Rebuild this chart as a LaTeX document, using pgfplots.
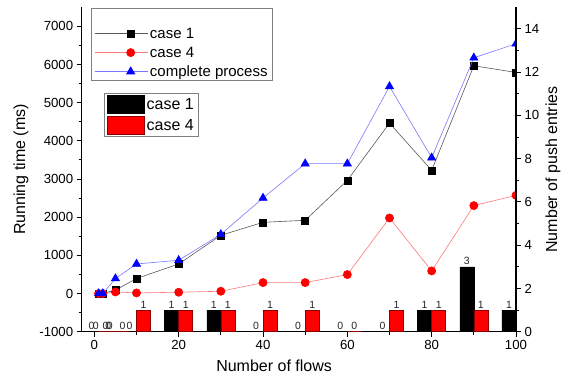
\documentclass[border=0pt]{standalone}
\usepackage{pgfplots}
\pgfplotsset{compat=1.18}
\usepackage{fontspec}
\setmainfont{Liberation Sans}
\definecolor{lred}{RGB}{255,120,120}
\definecolor{lblue}{RGB}{120,120,255}
\definecolor{dred}{RGB}{140,0,0}
\pgfplotsset{
  every axis/.append style={
    width=434.3pt, height=324.4pt, scale only axis,
    xmin=-3, xmax=100,
    tick align=outside,
    major tick length=5pt, minor tick length=3pt,
    tick style={black, line width=1pt},
    axis line style={line width=1.2pt},
    ticklabel style={font=\fontsize{13.2}{15}\selectfont},
    label style={font=\fontsize{16}{19}\selectfont},
    /pgf/number format/assume math mode=true,
    /pgf/number format/set thousands separator={},
  }
}
\begin{document}
\begin{tikzpicture}
\useasboundingbox (-81.7pt,-44.3pt) rectangle (482.3pt,331.7pt);
\begin{axis}[
  axis x line*=bottom, axis y line*=left,
  ymin=-1000, ymax=7500,
  ytick={-1000,0,...,7000},
  minor y tick num=1,
  xtick={0,20,...,100}, minor x tick num=1,
  xlabel={Number of flows},
  ylabel={Running time (ms)},
  xlabel style={at={(axis description cs:0.443,-0.106)}, anchor=center},
  ylabel style={at={(axis description cs:-0.14,0.5)}, anchor=center},
  clip marker paths=true,
  legend style={at={(axis description cs:0.0214,0.998)}, anchor=north west,
    draw=black!50, line width=0.8pt, font=\fontsize{15}{18}\selectfont,
    inner xsep=3pt, inner ysep=0pt, row sep=0pt,
    cells={anchor=base west},
    nodes={text height=12.5pt, text depth=2pt, inner ysep=2.25pt}},
  legend image code/.code={\path (0pt,5pt) -- (19pt,5pt);
    \draw[#1, mark repeat=2, mark phase=2] plot coordinates {(19pt,5pt) (36pt,5pt) (53pt,5pt)};},
]
\addplot[color=black!65, line width=0.6pt, mark=square*, mark size=3.5pt,
  mark options={draw=black, fill=black}] coordinates {
  (1,0) (2,0) (5,90) (10,393) (20,775) (30,1526) (40,1866) (50,1919)
  (60,2966) (70,4466) (80,3228) (90,5969) (100,5793)};
\addlegendentry[text height=28pt]{case 1}
\addplot[color=lred, line width=0.6pt, mark=*, mark size=4.1pt,
  mark options={draw=red, fill=red}] coordinates {
  (1,0) (2,0) (5,42) (10,16) (20,34) (30,60) (40,287) (50,287)
  (60,497) (70,1980) (80,593) (90,2304) (100,2573)};
\addlegendentry{case 4}
\addplot[color=lblue, line width=0.6pt, mark=triangle*, mark size=4.7pt,
  mark options={draw=blue, fill=blue}] coordinates {
  (1,0) (2,0) (5,393) (10,775) (20,872) (30,1552) (40,2503) (50,3403)
  (60,3403) (70,5427) (80,3560) (90,6178) (100,6545)};
\addlegendentry{complete process}
\end{axis}
\begin{axis}[
  axis y line*=right, axis x line=none,
  ymin=0, ymax=15, ytick={0,2,...,14}, minor y tick num=1,
  ylabel={Number of push entries},
  ylabel style={at={(axis description cs:1.085,0.5)}, anchor=center},
  legend style={at={(axis description cs:0.051,0.736)}, anchor=north west,
    draw=black!50, line width=0.8pt, font=\fontsize{16}{19}\selectfont,
    inner xsep=3pt, inner ysep=1.5pt, row sep=2.5pt,
    cells={anchor=base west},
    nodes={text height=12pt, text depth=2pt, inner ysep=2pt}},
  legend image code/.code={\draw[#1] (1pt,-3.5pt) rectangle (38pt,14.5pt);},
  nodes near coords style={font=\fontsize{10.5}{12}\selectfont, inner sep=1.5pt, text=black!85},
]
\addplot[ybar, bar width=14.05pt, bar shift=0pt, fill=black, draw=black, line width=0.5pt,
  nodes near coords] coordinates {
  (-0.667,0) (0.333,0) (3.333,0) (8.333,0) (18.333,1) (28.333,1) (38.333,0)
  (48.333,0) (58.333,0) (68.333,0) (78.333,1) (88.333,3) (98.333,1)};
\addlegendentry{case 1}
\addplot[ybar, bar width=14.05pt, bar shift=0pt, fill=red, draw=dred, line width=0.5pt,
  nodes near coords] coordinates {
  (2.667,0) (3.667,0) (6.667,0) (11.667,1) (21.667,1) (31.667,1) (41.667,1)
  (51.667,1) (61.667,0) (71.667,1) (81.667,1) (91.667,1)};
\addlegendentry{case 4}
\end{axis}
\end{tikzpicture}
\end{document}
